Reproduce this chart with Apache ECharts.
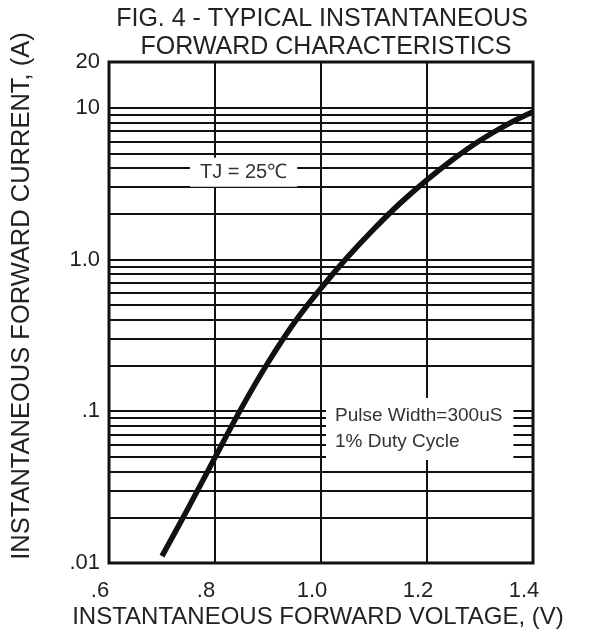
<!DOCTYPE html>
<html>
<head>
<meta charset="utf-8">
<script src="https://cdn.jsdelivr.net/npm/echarts@6/dist/echarts.min.js"></script>
<style>
html,body{margin:0;padding:0;background:#fff;}
#chart{width:597px;height:638px;}
</style>
</head>
<body>
<div id="chart"></div>
<script>
// Forward voltage (V) and instantaneous forward current (A)
const voltage = [0.70, 0.75, 0.80, 0.85, 0.90, 0.95, 1.00, 1.05, 1.10, 1.15, 1.20, 1.25, 1.30, 1.35, 1.40];
const current = [0.0111, 0.0232, 0.0495, 0.105, 0.209, 0.385, 0.646, 1.035, 1.59, 2.36, 3.35, 4.59, 6.08, 7.71, 9.4];

// Horizontal log grid lines
const gridCurrents = [0.02, 0.03, 0.04, 0.05, 0.06, 0.07, 0.08, 0.09,
                      0.1, 0.2, 0.3, 0.4, 0.5, 0.6, 0.7, 0.8, 0.9,
                      1, 2, 3, 4, 5, 6, 7, 8, 9, 10];

// Tick labels
const xTickValues = [0.6, 0.8, 1.0, 1.2, 1.4];
const xTickLabels = ['.6', '.8', '1.0', '1.2', '1.4'];
const yTickValues = [0.01, 0.1, 1, 10, 20];
const yTickLabels = ['.01', '.1', '1.0', '10', '20'];

const titleLines = ['FIG. 4 - TYPICAL INSTANTANEOUS', 'FORWARD CHARACTERISTICS'];
const xTitle = 'INSTANTANEOUS FORWARD VOLTAGE, (V)';
const yTitle = 'INSTANTANEOUS FORWARD CURRENT, (A)';
const noteTemp = 'TJ = 25℃';
const notePulse = 'Pulse Width=300uS\n1% Duty Cycle';

function lookup(vals, labels, v) {
  for (let i = 0; i < vals.length; i++) {
    if (Math.abs(vals[i] - v) < vals[i] * 1e-6 + 1e-9) return labels[i];
  }
  return '';
}

const FONT = '"Liberation Sans", Arial, sans-serif';
const chart = echarts.init(document.getElementById('chart'), null, {renderer: 'canvas'});

const option = {
  animation: false,
  backgroundColor: '#fff',
  grid: {
    left: 109, right: 64, top: 62, bottom: 75,
    show: true, borderColor: '#111', borderWidth: 3, backgroundColor: '#fff'
  },
  xAxis: {
    type: 'value', min: 0.6, max: 1.4, interval: 0.2,
    axisLine: {show: false}, axisTick: {show: false},
    splitLine: {show: true, lineStyle: {color: '#111', width: 2}},
    axisLabel: {
      color: '#222', fontSize: 22, fontFamily: FONT, margin: 17,
      padding: [0, 18, 0, 0],
      formatter: v => lookup(xTickValues, xTickLabels, v)
    }
  },
  yAxis: {
    type: 'log', logBase: 10, min: 0.01, max: 20,
    axisLine: {show: false}, axisTick: {show: false},
    splitLine: {show: false},
    axisLabel: {
      color: '#222', fontSize: 22, fontFamily: FONT, margin: 9,
      formatter: v => lookup(yTickValues, yTickLabels, v)
    }
  },
  series: [
    {
      type: 'line', name: 'grid', data: [], z: 1, silent: true,
      markLine: {
        silent: true, symbol: ['none', 'none'], animation: false,
        label: {show: false},
        lineStyle: {type: 'solid', color: '#111', width: 2, opacity: 1},
        emphasis: {disabled: true},
        data: gridCurrents.map(v => ({yAxis: v}))
      }
    },
    {
      type: 'line', name: 'IF', z: 3, smooth: 0.4, showSymbol: false, symbol: 'none',
      lineStyle: {color: '#111', width: 5.5},
      data: voltage.map((v, i) => [v, current[i]])
    },
    {
      type: 'scatter', name: 'notes', z: 6, zlevel: 0, symbolSize: 0, silent: true,
      itemStyle: {opacity: 1},
      data: [
        {
          value: [0.7528, 3.75],
          label: {
            show: true, position: 'right', distance: 0, formatter: noteTemp,
            color: '#333', fontSize: 20, fontFamily: FONT, lineHeight: 21,
            backgroundColor: '#fff', padding: [4, 10], opacity: 1
          }
        },
        {
          value: [1.0094, 0.0764],
          label: {
            show: true, position: 'right', distance: 0, formatter: notePulse,
            color: '#333', fontSize: 19, fontFamily: FONT, lineHeight: 26, align: 'left',
            backgroundColor: '#fff', padding: [5, 11, 5, 9], opacity: 1
          }
        }
      ]
    }
  ],
  graphic: [
    {type: 'text', x: 322, y: 19, z: 10,
     style: {text: titleLines[0], font: '25px ' + FONT, fill: '#222', align: 'center', verticalAlign: 'middle'}},
    {type: 'text', x: 326, y: 47, z: 10,
     style: {text: titleLines[1], font: '25px ' + FONT, fill: '#222', align: 'center', verticalAlign: 'middle'}},
    {type: 'text', x: 318, y: 617, z: 10,
     style: {text: xTitle, font: '24px ' + FONT, fill: '#222', align: 'center', verticalAlign: 'middle'}},
    {type: 'text', x: 22, y: 296, z: 10, rotation: Math.PI / 2,
     style: {text: yTitle, font: '25.5px ' + FONT, fill: '#222', align: 'center', verticalAlign: 'middle'}}
  ]
};
chart.setOption(option);
</script>
</body>
</html>
